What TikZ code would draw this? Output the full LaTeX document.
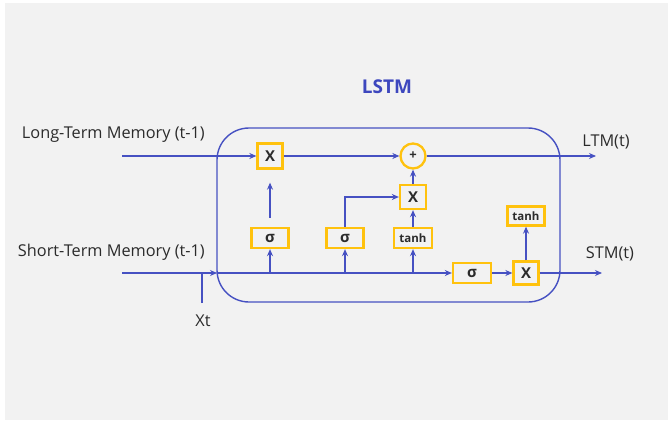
\documentclass[tikz,border=0pt]{standalone}
\usepackage{fontspec}
\setmainfont{Open Sans}
\usetikzlibrary{arrows.meta}
\definecolor{bgc}{HTML}{F2F2F2}
\definecolor{linec}{HTML}{4651C2}
\definecolor{titlec}{HTML}{3D47BE}
\definecolor{gatec}{HTML}{FFC20E}
\definecolor{txtc}{HTML}{2B2B2B}
\begin{document}
\begin{tikzpicture}[x=1pt,y=-1pt,
  conn/.style={draw=linec,line width=1.4pt},
  arr/.style={conn,-{Stealth[length=7pt,width=6pt]}},
  gate/.style={draw=gatec,line width=2.3pt,inner sep=0pt,font=\bfseries,text=txtc},
  gbig/.style={font=\bfseries\fontsize{15}{17}\selectfont},
  gsmall/.style={font=\bfseries\fontsize{11.5}{13}\selectfont},
  lbl/.style={font=\fontsize{16.3}{18}\selectfont,text=txtc,inner sep=0pt}
]
\useasboundingbox (0,0) rectangle (668,422);
\fill[white] (0,0) rectangle (668,422);
\fill[bgc] (5,3) rectangle (668,420);

\draw[linec,line width=1.4pt,rounded corners=32pt] (217,128) rectangle (560,302);

\node[font=\bfseries\fontsize{19}{21}\selectfont,text=titlec] (title) at (387,87) {LSTM};

% gates
\node[gate,gbig,minimum width=25pt,minimum height=25pt] (x1) at (270,156) {X};
\node[gate,circle,minimum size=25pt,font=\bfseries\fontsize{13}{15}\selectfont] (plus) at (413,156) {+};
\node[gate,gbig,minimum width=26pt,minimum height=24pt] (x2) at (413,197) {X};
\node[gate,gbig,minimum width=37pt,minimum height=20pt] (s1) at (270,238) {σ};
\node[gate,gbig,minimum width=37pt,minimum height=20pt] (s2) at (345,238) {σ};
\node[gate,gsmall,minimum width=38pt,minimum height=20pt] (t1) at (413,238) {tanh};
\node[gate,gbig,minimum width=38pt,minimum height=20pt] (s3) at (472,273) {σ};
\node[gate,gbig,minimum width=25pt,minimum height=23pt] (x3) at (526,273) {X};
\node[gate,gsmall,minimum width=37pt,minimum height=19pt] (t2) at (526,216) {tanh};

% labels
\node[lbl,anchor=east] (ltmin) at (205,135) {Long-Term Memory (t-1)};
\node[lbl,anchor=east] (stmin) at (205,252) {Short-Term Memory (t-1)};
\node[lbl] (ltmout) at (606,142) {LTM(t)};
\node[lbl] (stmout) at (610,254) {STM(t)};
\node[lbl] (xt) at (203,321) {Xt};

% coordinates
\coordinate (ltmstart) at (122,156);
\coordinate (stmstart) at (122,273);
\coordinate (stmbox) at (217,273);
\coordinate (xtbot) at (202,303);
\coordinate (xtjoin) at (202,273);
\coordinate (ltmend) at (596,156);
\coordinate (stmend) at (602,273);
\coordinate (j1) at (270,273);
\coordinate (j2) at (345,273);
\coordinate (j3) at (413,273);
\coordinate (s2up) at (345,197);

% LTM path
\draw[arr] (ltmstart) -- (x1.west);
\draw[arr] (x1.east) -- (plus.west);
\draw[arr] (plus.east) -- (ltmend);

% STM path
\draw[arr] (stmstart) -- (stmbox);
\draw[arr] (stmbox) -- (s3.west);
\draw[conn] (xtbot) -- (xtjoin);
\draw[arr] (s3.east) -- (x3.west);
\draw[arr] (x3.east) -- (stmend);

% vertical connections
\draw[arr] (j1) -- (s1.south);
\draw[arr,shorten <=9pt,shorten >=13pt] (s1.north) -- (x1.south);
\draw[arr] (j2) -- (s2.south);
\draw[arr] (s2.north) -- (s2up) -- (x2.west);
\draw[arr] (j3) -- (t1.south);
\draw[arr] (t1.north) -- (x2.south);
\draw[arr] (x2.north) -- (plus.south);
\draw[arr] (x3.north) -- (t2.south);
\end{tikzpicture}
\end{document}
